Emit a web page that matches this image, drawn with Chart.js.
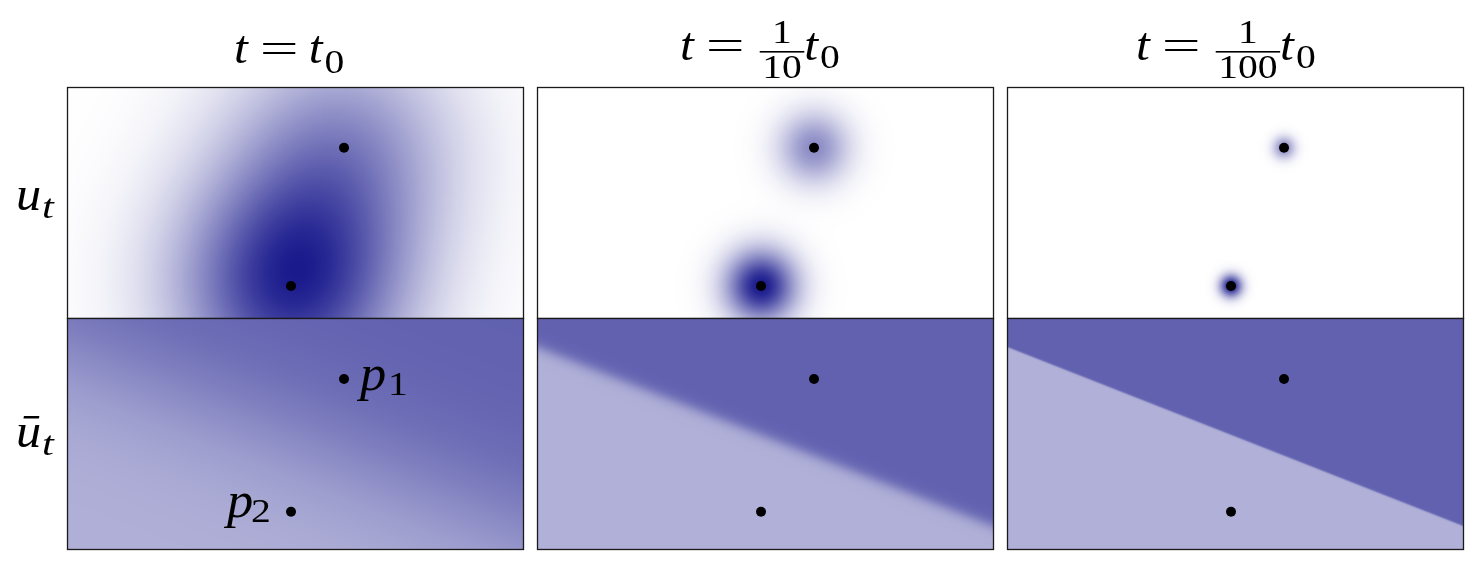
<!DOCTYPE html>
<html><head><meta charset="utf-8">
<script src="https://cdn.jsdelivr.net/npm/chart.js@4.4.1/dist/chart.umd.min.js"></script>
<style>
html,body{margin:0;padding:0;background:#fff;}
body{width:1476px;height:568px;position:relative;overflow:hidden;}
canvas{position:absolute;left:0;top:0;}
</style></head><body>
<script>
// ---- data ----
const timeDenominators = [1, 10, 100];          // columns: t = t0, t0/10, t0/100
const rowSymbols = ['u', 'ū'];                   // rows: u_t, ū_t
const pointNames = ['1', '2'];                    // p1, p2
const pointX = [2.43, 1.965];
const topPointY = [1.474, 0.277];
const bottomPointY = [1.472, 0.322];
const pointWeights = [0.5, 1.0];
const kernelSigma = [0.7, 0.215, 0.068];
const boundaryX = [0, 4];
const boundaryY = [1.75, 0.2];
const boundaryWidth = [0.31, 0.03, 0.004];
const xRange = [0, 4];
const yRange = [0, 2];
const alphaLight = 0.31, alphaDark = 0.62, alphaMax = 0.9;

// ---- layout (style) ----
const PAGE_W = 1476, PAGE_H = 568;
const colLeft = [67, 537, 1007], panelW = 456;
const rowTop = [87, 318], panelH = 231;
const titleStart = [234, 680, 1136], titleBase = [63, 60, 60];
const SERIF = '"Liberation Serif"';

function fieldPlugin(row, col) {
  return {
    id: 'field',
    beforeDatasetsDraw(chart) {
      const a = chart.chartArea, sx = chart.scales.x, sy = chart.scales.y, ctx = chart.ctx;
      const L = Math.round(a.left), T = Math.round(a.top);
      const Wd = Math.round(a.right) - L, Ht = Math.round(a.bottom) - T;
      const vx = new Float64Array(Wd), vy = new Float64Array(Ht);
      for (let i = 0; i < Wd; i++) vx[i] = sx.getValueForPixel(L + i + 0.5);
      for (let j = 0; j < Ht; j++) vy[j] = sy.getValueForPixel(T + j + 0.5);
      const al = new Float32Array(Wd * Ht);
      if (row === 0) {
        const s2 = 2 * kernelSigma[col] * kernelSigma[col];
        let mx = 0;
        for (let j = 0; j < Ht; j++) for (let i = 0; i < Wd; i++) {
          let f = 0;
          for (let k = 0; k < pointX.length; k++) {
            const ddx = vx[i] - pointX[k], ddy = vy[j] - topPointY[k];
            f += pointWeights[k] * Math.exp(-(ddx * ddx + ddy * ddy) / s2);
          }
          al[j * Wd + i] = f; if (f > mx) mx = f;
        }
        for (let n = 0; n < al.length; n++) al[n] = alphaMax * al[n] / mx;
      } else {
        const x0 = boundaryX[0], y0 = boundaryY[0];
        const dx = boundaryX[1] - x0, dy = boundaryY[1] - y0, len = Math.hypot(dx, dy);
        const w = boundaryWidth[col];
        for (let j = 0; j < Ht; j++) for (let i = 0; i < Wd; i++) {
          const s = (dx * (vy[j] - y0) - dy * (vx[i] - x0)) / len;
          al[j * Wd + i] = alphaLight + (alphaDark - alphaLight) / (1 + Math.exp(-s / w));
        }
      }
      const img = ctx.createImageData(Wd, Ht);
      for (let n = 0; n < al.length; n++) {
        const a2 = al[n];
        const base = 255 * (1 - a2);
        img.data[4 * n] = base;
        img.data[4 * n + 1] = base;
        img.data[4 * n + 2] = base + 128 * a2;
        img.data[4 * n + 3] = 255;
      }
      ctx.putImageData(img, L, T);
    }
  };
}

// draws text with a horizontal/vertical stretch; returns the advance width
function drawScaled(ctx, text, x, y, font, kx, ky, align) {
  ctx.save();
  ctx.font = font;
  const w = ctx.measureText(text).width * kx;
  ctx.translate(align === 'center' ? x - w / 2 : x, y);
  ctx.scale(kx, ky);
  ctx.textAlign = 'left';
  ctx.fillText(text, 0, 0);
  ctx.restore();
  return w;
}
const DIGIT_FONT = '33px ' + SERIF;
const DIGIT_K = 1.2;

function drawTitle(ctx, col) {
  const d = timeDenominators[col];
  const B = titleBase[col];
  let x = titleStart[col];
  ctx.fillStyle = '#000';
  ctx.textBaseline = 'alphabetic';
  x += drawScaled(ctx, 't', x, B, 'italic 46px ' + SERIF, 1.08, 1, 'left') + 12;
  x += drawScaled(ctx, '=', x, B - 1.5, '46px ' + SERIF, 1.5, 0.9, 'left');
  if (d === 1) {
    x += 10;
  } else {
    ctx.font = DIGIT_FONT;
    const dw = ctx.measureText(String(d)).width * DIGIT_K;
    const barL = x + 15, barW = dw + 5, cx = barL + barW / 2;
    drawScaled(ctx, '1', cx, B - 17, DIGIT_FONT, DIGIT_K, 1, 'center');
    drawScaled(ctx, String(d), cx, B + 18, DIGIT_FONT, DIGIT_K, 1, 'center');
    ctx.fillRect(barL, B - 9, barW, 1.6);
    x = barL + barW;
  }
  x += drawScaled(ctx, 't', x, B, 'italic 46px ' + SERIF, 1.08, 1, 'left') + 2;
  drawScaled(ctx, '0', x, B + (d === 1 ? 10 : 8), DIGIT_FONT, DIGIT_K, 1, 'left');
}

function decorPlugin(row, col) {
  return {
    id: 'decor',
    afterDraw(chart) {
      const ctx = chart.ctx, a = chart.chartArea, sx = chart.scales.x, sy = chart.scales.y;
      ctx.save();
      ctx.strokeStyle = '#1a1a1a';
      ctx.lineWidth = 1.3;
      ctx.strokeRect(Math.round(a.left) + 0.5, Math.round(a.top) + 0.5,
                     Math.round(a.right - a.left), Math.round(a.bottom - a.top));
      ctx.fillStyle = '#000';
      ctx.textBaseline = 'alphabetic';
      if (row === 0) drawTitle(ctx, col);
      if (col === 0) {
        const B = row === 0 ? 210 : 447;
        drawScaled(ctx, rowSymbols[row], 16, B, 'italic 48px ' + SERIF, 1.05, 1, 'left');
        drawScaled(ctx, 't', 42, B + 8, 'italic 34px ' + SERIF, 1.25, 1, 'left');
      }
      if (row === 1 && col === 0) {
        // p1 to the right of its point, p2 to the left of its point
        const offs = [[16, 11, 44, 16], [-64, 5, -40, 10]];
        for (let k = 0; k < pointX.length; k++) {
          const px = sx.getPixelForValue(pointX[k]), py = sy.getPixelForValue(bottomPointY[k]);
          const o = offs[k];
          drawScaled(ctx, 'p', px + o[0], py + o[1], 'italic 50px ' + SERIF, 1.05, 1, 'left');
          drawScaled(ctx, pointNames[k], px + o[2], py + o[3], DIGIT_FONT, DIGIT_K, 1, 'left');
        }
      }
      ctx.restore();
    }
  };
}

for (let r = 0; r < 2; r++) {
  for (let c = 0; c < 3; c++) {
    const cv = document.createElement('canvas');
    cv.width = PAGE_W; cv.height = PAGE_H;
    document.body.appendChild(cv);
    const ys = r === 0 ? topPointY : bottomPointY;
    const pts = pointX.map((x, k) => ({ x: x, y: ys[k] }));
    new Chart(cv, {
      type: 'scatter',
      data: { datasets: [{ data: pts, pointRadius: 5, pointHoverRadius: 5,
        backgroundColor: '#000', borderWidth: 0, pointBorderWidth: 0 }] },
      options: {
        responsive: false, animation: false, devicePixelRatio: 1, events: [],
        layout: { padding: { left: colLeft[c], top: rowTop[r],
          right: PAGE_W - colLeft[c] - panelW, bottom: PAGE_H - rowTop[r] - panelH } },
        plugins: { legend: { display: false }, tooltip: { enabled: false } },
        scales: {
          x: { type: 'linear', min: xRange[0], max: xRange[1], display: false },
          y: { type: 'linear', min: yRange[0], max: yRange[1], display: false }
        }
      },
      plugins: [fieldPlugin(r, c), decorPlugin(r, c)]
    });
  }
}
</script>
</body></html>
